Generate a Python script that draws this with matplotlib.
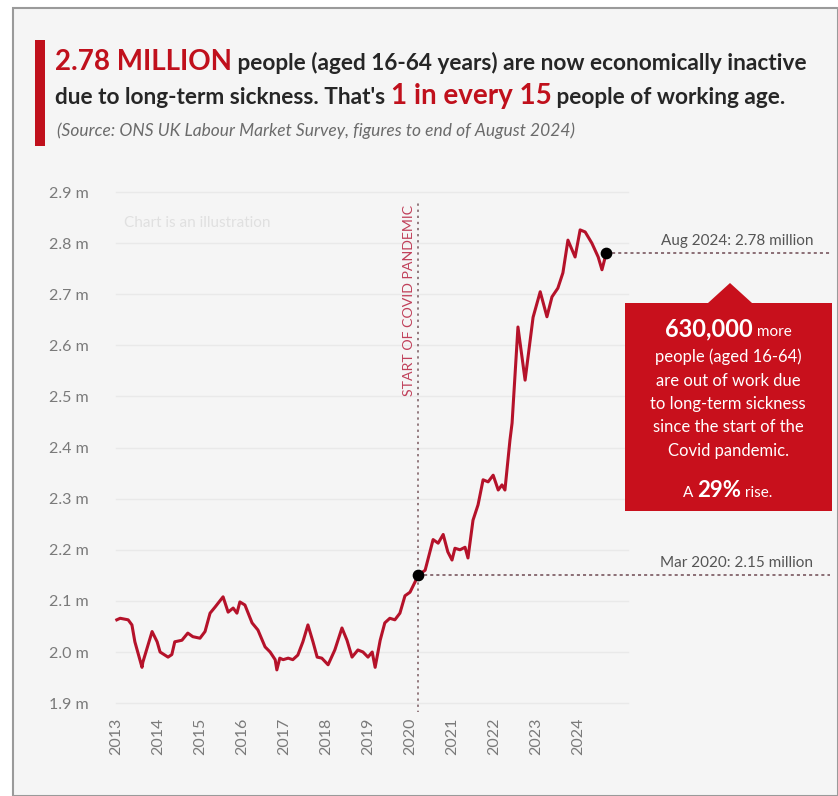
import matplotlib.pyplot as plt
import matplotlib.patches as patches
import numpy as np

# Economically inactive due to long-term sickness (millions)
years = [2013.02, 2013.10, 2013.29, 2013.38, 2013.45, 2013.62, 2013.64, 2013.86, 2013.98,
         2014.05, 2014.24, 2014.33, 2014.40, 2014.57, 2014.71, 2014.83, 2015.00, 2015.12,
         2015.24, 2015.36, 2015.55, 2015.67, 2015.79, 2015.88, 2015.95, 2016.07, 2016.24,
         2016.38, 2016.55, 2016.67, 2016.79, 2016.83, 2016.90, 2016.98, 2017.10, 2017.21,
         2017.33, 2017.45, 2017.57, 2017.69, 2017.79, 2017.90, 2018.05, 2018.21, 2018.38,
         2018.50, 2018.62, 2018.76, 2018.88, 2019.00, 2019.10, 2019.17, 2019.29, 2019.40,
         2019.52, 2019.64, 2019.76, 2019.88, 2020.00, 2020.12, 2020.19, 2020.36, 2020.55,
         2020.67, 2020.79, 2020.90, 2021.00, 2021.07, 2021.19, 2021.31, 2021.38, 2021.50,
         2021.62, 2021.74, 2021.86, 2021.98, 2022.10, 2022.19, 2022.26, 2022.38, 2022.43,
         2022.57, 2022.74, 2022.93, 2023.10, 2023.26, 2023.38, 2023.52, 2023.64, 2023.76,
         2023.93, 2024.05, 2024.17, 2024.33, 2024.48, 2024.57, 2024.67]
values = [2.063, 2.066, 2.063, 2.053, 2.020, 1.970, 1.980, 2.040, 2.020,
          2.000, 1.990, 1.995, 2.020, 2.023, 2.037, 2.030, 2.027, 2.040,
          2.076, 2.088, 2.108, 2.078, 2.086, 2.076, 2.098, 2.092, 2.057,
          2.043, 2.010, 2.000, 1.985, 1.965, 1.988, 1.985, 1.988, 1.985,
          1.994, 2.020, 2.053, 2.020, 1.990, 1.988, 1.975, 2.004, 2.047,
          2.023, 1.990, 2.004, 2.000, 1.990, 2.000, 1.970, 2.023, 2.057,
          2.066, 2.063, 2.076, 2.110, 2.117, 2.137, 2.150, 2.160, 2.220,
          2.213, 2.230, 2.196, 2.180, 2.203, 2.200, 2.205, 2.184, 2.258,
          2.288, 2.337, 2.333, 2.346, 2.317, 2.327, 2.317, 2.415, 2.448,
          2.636, 2.532, 2.655, 2.705, 2.656, 2.695, 2.712, 2.742, 2.806,
          2.773, 2.826, 2.822, 2.800, 2.773, 2.748, 2.780]

covid_start = (2020.19, 2.15)
latest = (2024.67, 2.78)
year_ticks = list(range(2013, 2025))
value_ticks = [1.9, 2.0, 2.1, 2.2, 2.3, 2.4, 2.5, 2.6, 2.7, 2.8, 2.9]

RED = '#c0101c'
LINE_RED = '#b5122a'
GREY_TEXT = '#6b6b6b'
DARK = '#262626'

W, H = 838, 796
fig = plt.figure(figsize=(W / 100, H / 100), dpi=100)
fig.patch.set_facecolor('white')
plt.rcParams['font.family'] = ['Lato', 'DejaVu Sans']


def fx(px):
    return px / W


def fy(py):
    return 1 - py / H


# Card background and border (drawn underneath everything else)
card = patches.Rectangle((fx(13), 0), 1 - fx(13), fy(8), transform=fig.transFigure,
                         facecolor='#f5f5f5', edgecolor='#9a9a9a', linewidth=1.5, zorder=-10)
fig.patches.append(card)

# Red accent bar by the headline
bar = patches.Rectangle((fx(35), fy(146)), fx(10), fy(40) - fy(146), transform=fig.transFigure,
                        facecolor=RED, edgecolor='none', zorder=1)
fig.patches.append(bar)

renderer = fig.canvas.get_renderer()


# Writes runs of differently styled text one after another on one baseline
def write_runs(x_px, y_px, runs):
    x = fx(x_px)
    for txt, size, color, weight, style in runs:
        t = fig.text(x, fy(y_px), txt, fontsize=size, color=color, fontweight=weight,
                     fontstyle=style, va='baseline', ha='left', zorder=6)
        bb = t.get_window_extent(renderer=renderer)
        x += bb.width / W


write_runs(55, 70, [('2.78 MILLION', 20, RED, 'bold', 'normal'),
                    (' people (aged 16-64 years) are now economically inactive', 16.3, DARK, 'bold', 'normal')])
write_runs(55, 104, [("due to long-term sickness. That's ", 16.3, DARK, 'bold', 'normal'),
                     ('1 in every 15', 20, RED, 'bold', 'normal'),
                     (' people of working age.', 16.3, DARK, 'bold', 'normal')])
write_runs(57, 136, [('(Source: ONS UK Labour Market Survey, figures to end of August 2024)', 12.5, GREY_TEXT,
                      'normal', 'italic')])

# Main chart axes
ax = fig.add_axes([fx(100), fy(712), fx(833) - fx(100), fy(188) - fy(712)])
ax.set_facecolor('none')
ax.set_xlim(2012.62, 2030.07)
ax.set_ylim(1.8826, 2.908)
for s in ax.spines.values():
    s.set_visible(False)

for v in value_ticks:
    ax.plot([2013, 2025.2], [v, v], color='#e9e9e9', linewidth=1, zorder=1)

ax.set_yticks(value_ticks)
ax.set_yticklabels([f'{v:.1f} m' for v in value_ticks])
ax.set_xticks(year_ticks)
ax.set_xticklabels([str(y) for y in year_ticks], rotation=90)
ax.tick_params(axis='both', length=0, labelsize=11.5, labelcolor='#7a7a7a')
ax.tick_params(axis='y', pad=8)
ax.tick_params(axis='x', pad=4)

ax.text(2013.2, 2.84, 'Chart is an illustration', fontsize=11, color='#e0e0e0', va='center')

# Start of pandemic marker line
ax.plot([covid_start[0], covid_start[0]], [1.88, 2.88], color='#7a5a60', linewidth=1.1,
        linestyle=(0, (1.5, 2.5)), zorder=2)
ax.text(covid_start[0] - 0.08, 2.875, 'START OF COVID PANDEMIC', rotation=90, ha='right', va='top',
        fontsize=10.2, color='#c0405a')

# Reference lines from the two highlighted points
ax.plot([covid_start[0], 2030.0], [covid_start[1], covid_start[1]], color='#6e4a52', linewidth=1.1,
        linestyle=(0, (2, 2)), zorder=2)
ax.plot([latest[0], 2030.0], [latest[1], latest[1]], color='#6e4a52', linewidth=1.1,
        linestyle=(0, (2, 2)), zorder=2)
ax.text(2029.6, covid_start[1] + 0.01, 'Mar 2020: 2.15 million', ha='right', va='bottom',
        fontsize=11, color='#555555')
ax.text(2029.6, latest[1] + 0.01, 'Aug 2024: 2.78 million', ha='right', va='bottom',
        fontsize=11, color='#555555')

ax.plot(years, values, color=LINE_RED, linewidth=2.2, zorder=3, solid_joinstyle='round')
ax.scatter([covid_start[0], latest[0]], [covid_start[1], latest[1]], s=55, color='black', zorder=4)

# Red call-out box with a pointer towards the latest value
box_x0, box_x1, box_y0, box_y1 = 625, 832, 303, 511
tip_x = 730
callout = patches.Polygon([(fx(box_x0), fy(box_y1)), (fx(box_x1), fy(box_y1)), (fx(box_x1), fy(box_y0)),
                           (fx(tip_x + 22), fy(box_y0)), (fx(tip_x), fy(283)), (fx(tip_x - 22), fy(box_y0)),
                           (fx(box_x0), fy(box_y0))],
                          closed=True, transform=fig.transFigure, facecolor='#c8101c', edgecolor='none',
                          zorder=1)
fig.patches.append(callout)

cx = fx(728)
t1 = fig.text(0, 0, '630,000', fontsize=17, fontweight='bold', color='white', zorder=6)
t2 = fig.text(0, 0, ' more', fontsize=11, color='white', zorder=6)
w1 = t1.get_window_extent(renderer=renderer).width / W
w2 = t2.get_window_extent(renderer=renderer).width / W
t1.set_position((cx - (w1 + w2) / 2, fy(336)))
t2.set_position((cx - (w1 + w2) / 2 + w1, fy(336)))

body = ['people (aged 16-64)', 'are out of work due', 'to long-term sickness',
        'since the start of the', 'Covid pandemic.']
for i, line in enumerate(body):
    fig.text(cx, fy(362 + i * 23.5), line, fontsize=12, color='white', ha='center', va='baseline',
             zorder=6)

a1 = fig.text(0, 0, 'A ', fontsize=11, color='white', zorder=6)
a2 = fig.text(0, 0, '29%', fontsize=16, fontweight='bold', color='white', zorder=6)
a3 = fig.text(0, 0, ' rise.', fontsize=11, color='white', zorder=6)
ws = [t.get_window_extent(renderer=renderer).width / W for t in (a1, a2, a3)]
x = cx - sum(ws) / 2
for t, w in zip((a1, a2, a3), ws):
    t.set_position((x, fy(497)))
    x += w

fig.savefig('out.png', dpi=100, facecolor=fig.get_facecolor())
